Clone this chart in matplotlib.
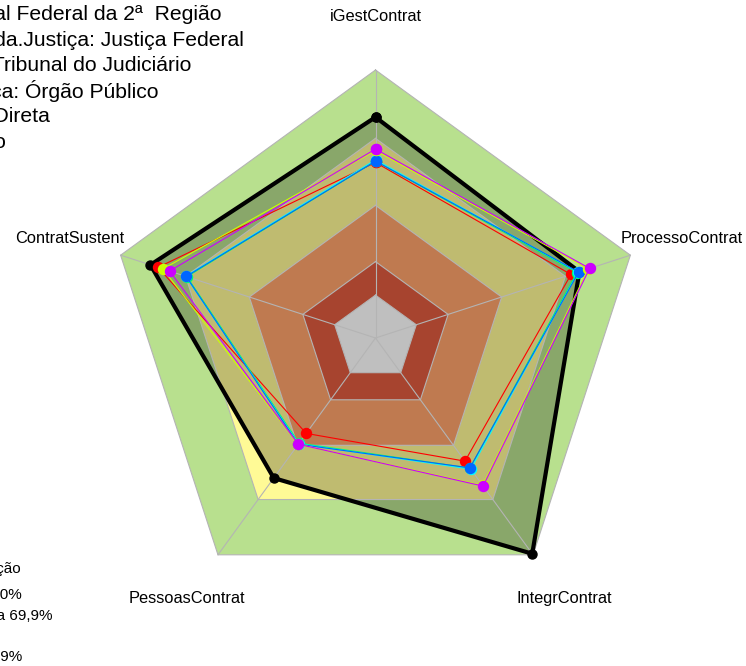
import numpy as np
import matplotlib
matplotlib.use("Agg")
import matplotlib.pyplot as plt

plt.rcParams['font.family'] = ['Liberation Sans', 'DejaVu Sans']

# eixos do radar (sentido horario a partir do topo)
eixos = ["iGestContrat", "ProcessoContrat", "IntegrContrat", "PessoasContrat", "ContratSustent"]

# faixas de referencia: limite externo de cada faixa (%)
faixas = [100, 74.5, 49.5, 28.5, 16]
cores_faixas = ["#B8E08E", "#FFFA96", "#FFA36B", "#E05B40", "#FFFFFF"]

# organizacao avaliada
orgao = [82.4, 80.0, 99.5, 64.6, 88.3]

# medias dos grupos de comparacao
media_vermelho = [65.5, 76.7, 56.8, 44.0, 85.3]
media_verde = [66.0, 79.0, 60.0, 48.5, 74.0]
media_ciano = [66.5, 79.5, 60.5, 48.8, 74.5]
media_azul = [66.0, 79.7, 59.9, 49.0, 74.3]
media_amarelo = [70.0, 83.5, 68.0, 49.0, 83.4]
media_magenta = [70.5, 84.0, 68.3, 49.0, 80.8]

grupos = [media_vermelho, media_verde, media_ciano, media_azul, media_amarelo, media_magenta]
cores_grupos = ["#FF0000", "#00FF66", "#00FFFF", "#0066FF", "#CCFF00", "#CC00FF"]

cabecalho = [
    "Tribunal Regional Federal da 2ª  Região",
    "Ramo.da.Justiça: Justiça Federal",
    "Segmento: Tribunal do Judiciário",
    "Natureza.Jurídica: Órgão Público",
    "Administração: Direta",
    "Poder: Judiciário",
]
fim_cabecalho = [222, 244, 191, 159, 50, 6]

legenda = ["Classificação", "Aprimorado: 70 a 100%", "Intermediário: 40 a 69,9%",
           "Inexpressivo: 0 a 14,9%"]
fim_legenda = [21, 22, 53, 22]
y_legenda = [569, 595, 616, 657]

theta = np.deg2rad(90 - 72 * np.arange(len(eixos)))


def poligono(valores):
    r = np.asarray(valores, dtype=float) / 100
    x = r * np.cos(theta)
    y = r * np.sin(theta)
    return np.append(x, x[0]), np.append(y, y[0])


W, H = 746, 666
fig = plt.figure(figsize=(W / 100, H / 100), dpi=100)
ax = fig.add_axes([0, 0, 1, 1])
escala = 268.0
cx, cy = 375.5, 338.0
ax.set_xlim(-cx / escala, (W - cx) / escala)
ax.set_ylim(-(H - cy) / escala, cy / escala)
ax.axis("off")

# faixas coloridas
for nivel, cor in zip(faixas, cores_faixas):
    x, y = poligono([nivel] * len(eixos))
    ax.fill(x, y, color=cor, lw=0, zorder=1)

# area sombreada da organizacao
x, y = poligono(orgao)
ax.fill(x, y, color="black", alpha=0.25, lw=0, zorder=2)

# grade
for nivel in faixas:
    gx, gy = poligono([nivel] * len(eixos))
    ax.plot(gx, gy, color="#B4B4B4", lw=0.8, zorder=3)
for t in theta:
    ax.plot([0, np.cos(t)], [0, np.sin(t)], color="#B4B4B4", lw=0.8, zorder=3)

ax.plot(x, y, color="black", lw=3, marker="o", ms=6.5, zorder=4)

for vals, cor in zip(grupos, cores_grupos):
    gx, gy = poligono(vals)
    ax.plot(gx, gy, color=cor, lw=0.8, marker="o", ms=7.2, zorder=5)

# rotulos dos eixos
for nome, t in zip(eixos, theta):
    ax.text(1.2 * np.cos(t), 1.2 * np.sin(t), nome, ha="center", va="center",
            fontsize=11.8, color="black", zorder=6)

for i, (txt, xf) in enumerate(zip(cabecalho, fim_cabecalho)):
    fig.text(xf / W, 1 - (15 + 25.4 * i) / H, txt, ha="right", va="center",
             fontsize=15.2, color="black")

for txt, xf, yl in zip(legenda, fim_legenda, y_legenda):
    fig.text(xf / W, 1 - yl / H, txt, ha="right", va="center",
             fontsize=11, color="black")

fig.savefig("out.png", dpi=100)
